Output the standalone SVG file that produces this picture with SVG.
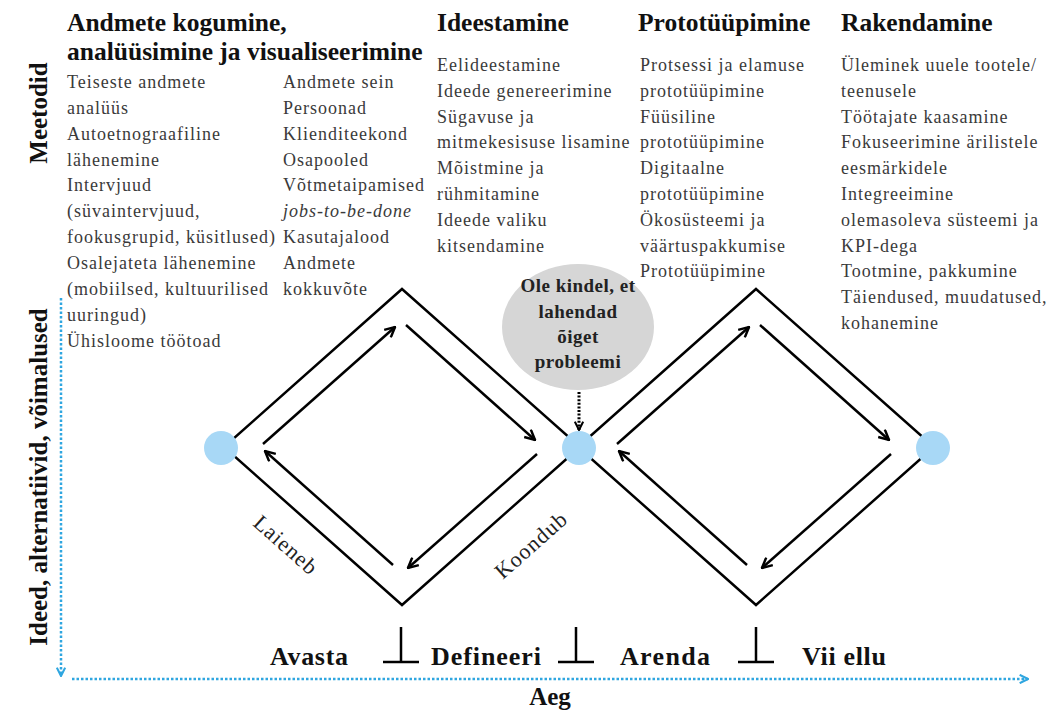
<svg xmlns="http://www.w3.org/2000/svg" width="1055" height="712" viewBox="0 0 1055 712">
<defs>
<style>
.hd{font-family:"Liberation Serif","Times New Roman",serif;font-weight:bold;font-size:25.5px;fill:#111}
.bd{font-family:"Liberation Serif","Times New Roman",serif;font-size:18px;letter-spacing:1px;fill:#3a3a3a}
.it{font-style:italic}
.ax{font-family:"Liberation Serif","Times New Roman",serif;font-weight:bold;font-size:25px;fill:#111}
.ph{font-family:"Liberation Serif","Times New Roman",serif;font-weight:bold;font-size:26px;fill:#111}
.dg{font-family:"Liberation Serif","Times New Roman",serif;font-size:22px;letter-spacing:1px;fill:#222}
.ct{font-family:"Liberation Serif","Times New Roman",serif;font-weight:bold;font-size:19px;letter-spacing:0.5px;fill:#222}
.edge{fill:none;stroke:#000;stroke-width:2.5}
.arr{fill:none;stroke:#000;stroke-width:2.5;marker-end:url(#head)}
.blue{fill:none;stroke:#2fa6e0;stroke-width:2.5;stroke-dasharray:2.5 2}
.tm{fill:none;stroke:#000;stroke-width:2.5}
</style>
<marker id="head" viewBox="0 0 12 12" refX="11" refY="6" markerWidth="12" markerHeight="12" markerUnits="userSpaceOnUse" orient="auto">
<path d="M1,1 L11,6 L1,11" fill="none" stroke="#000" stroke-width="2.5"/>
</marker>
<marker id="bhead" viewBox="0 0 12 12" refX="11" refY="6" markerWidth="10" markerHeight="10" markerUnits="userSpaceOnUse" orient="auto">
<path d="M1,1 L11,6 L1,11" fill="none" stroke="#2fa6e0" stroke-width="2.5"/>
</marker>
<marker id="dhead" viewBox="0 0 12 12" refX="11" refY="6" markerWidth="10" markerHeight="10" markerUnits="userSpaceOnUse" orient="auto">
<path d="M1,1 L11,6 L1,11" fill="none" stroke="#000" stroke-width="2.5"/>
</marker>
</defs>
<rect width="1055" height="712" fill="#fff"/>

<g id="axis-labels">
<text class="ax" transform="translate(47,113) rotate(-90)" text-anchor="middle">Meetodid</text>
<text class="ax" transform="translate(47,477) rotate(-90)" text-anchor="middle">Ideed, alternatiivid, võimalused</text>
<text class="ax" x="550" y="705" text-anchor="middle">Aeg</text>
</g>

<g id="col-andmete">
<text class="hd" x="67" y="31">Andmete kogumine,</text>
<text class="hd" x="67" y="60">analüüsimine ja visualiseerimine</text>
<text class="bd" x="67" y="88">Teiseste andmete</text>
<text class="bd" x="67" y="114">analüüs</text>
<text class="bd" x="67" y="140">Autoetnograafiline</text>
<text class="bd" x="67" y="166">lähenemine</text>
<text class="bd" x="67" y="191">Intervjuud</text>
<text class="bd" x="67" y="217">(süvaintervjuud,</text>
<text class="bd" x="67" y="243">fookusgrupid, küsitlused)</text>
<text class="bd" x="67" y="269">Osalejateta lähenemine</text>
<text class="bd" x="67" y="295">(mobiilsed, kultuurilised</text>
<text class="bd" x="67" y="321">uuringud)</text>
<text class="bd" x="67" y="347">Ühisloome töötoad</text>
<text class="bd" x="283" y="88">Andmete sein</text>
<text class="bd" x="283" y="114">Persoonad</text>
<text class="bd" x="283" y="140">Klienditeekond</text>
<text class="bd" x="283" y="166">Osapooled</text>
<text class="bd" x="283" y="191">Võtmetaipamised</text>
<text class="bd it" x="283" y="217">jobs-to-be-done</text>
<text class="bd" x="283" y="243">Kasutajalood</text>
<text class="bd" x="283" y="269">Andmete</text>
<text class="bd" x="283" y="295">kokkuvõte</text>
</g>

<g id="col-ideestamine">
<text class="hd" x="437" y="31">Ideestamine</text>
<text class="bd" x="437" y="71">Eelideestamine</text>
<text class="bd" x="437" y="97">Ideede genereerimine</text>
<text class="bd" x="437" y="123">Sügavuse ja</text>
<text class="bd" x="437" y="148">mitmekesisuse lisamine</text>
<text class="bd" x="437" y="174">Mõistmine ja</text>
<text class="bd" x="437" y="200">rühmitamine</text>
<text class="bd" x="437" y="226">Ideede valiku</text>
<text class="bd" x="437" y="252">kitsendamine</text>
</g>

<g id="col-prototyypimine">
<text class="hd" x="638" y="31">Prototüüpimine</text>
<text class="bd" x="640" y="71">Protsessi ja elamuse</text>
<text class="bd" x="640" y="97">prototüüpimine</text>
<text class="bd" x="640" y="123">Füüsiline</text>
<text class="bd" x="640" y="148">prototüüpimine</text>
<text class="bd" x="640" y="174">Digitaalne</text>
<text class="bd" x="640" y="200">prototüüpimine</text>
<text class="bd" x="640" y="226">Ökosüsteemi ja</text>
<text class="bd" x="640" y="252">väärtuspakkumise</text>
<text class="bd" x="640" y="277">Prototüüpimine</text>
</g>

<g id="col-rakendamine">
<text class="hd" x="841" y="31">Rakendamine</text>
<text class="bd" x="841" y="71">Üleminek uuele tootele/</text>
<text class="bd" x="841" y="97">teenusele</text>
<text class="bd" x="841" y="123">Töötajate kaasamine</text>
<text class="bd" x="841" y="148">Fokuseerimine ärilistele</text>
<text class="bd" x="841" y="174">eesmärkidele</text>
<text class="bd" x="841" y="200">Integreeimine</text>
<text class="bd" x="841" y="226">olemasoleva süsteemi ja</text>
<text class="bd" x="841" y="252">KPI-dega</text>
<text class="bd" x="841" y="277">Tootmine, pakkumine</text>
<text class="bd" x="841" y="303">Täiendused, muudatused,</text>
<text class="bd" x="841" y="329">kohanemine</text>
</g>

<g id="diamond-left">
<polygon class="edge" points="402,289 580,447 402,605 224,447"/>
</g>
<g id="diamond-right">
<polygon class="edge" points="756,289 934,447 756,605 578,447"/>
</g>

<g id="connectors">
<path class="arr" d="M263,444 L395,327"/>
<path class="arr" d="M406,325 L535,440"/>
<path class="arr" d="M537,454 L408,568"/>
<path class="arr" d="M393,565 L265,451"/>
<path class="arr" d="M617,444 L749,327"/>
<path class="arr" d="M760,325 L889,440"/>
<path class="arr" d="M891,454 L762,568"/>
<path class="arr" d="M747,565 L619,451"/>
<path d="M579,392 L579,430" fill="none" stroke="#000" stroke-width="3" stroke-dasharray="2 1.6" marker-end="url(#dhead)"/>
<path class="blue" d="M61,298 L61,676" marker-end="url(#bhead)"/>
<path class="blue" d="M72,679 L1028,679" marker-end="url(#bhead)"/>
</g>

<g id="node-start"><circle cx="221" cy="448" r="17" fill="#a8d8f6"/></g>
<g id="node-mid"><circle cx="579" cy="448" r="17" fill="#a8d8f6"/></g>
<g id="node-end"><circle cx="933" cy="448" r="17" fill="#a8d8f6"/></g>

<g id="callout">
<ellipse cx="578" cy="327" rx="76" ry="63" fill="#d6d6d6"/>
<text class="ct" x="578" y="292" text-anchor="middle">Ole kindel, et</text>
<text class="ct" x="578" y="318" text-anchor="middle">lahendad</text>
<text class="ct" x="578" y="343" text-anchor="middle">õiget</text>
<text class="ct" x="578" y="368" text-anchor="middle">probleemi</text>
</g>

<g id="edge-labels">
<text class="dg" transform="translate(286,545) rotate(41.6)" text-anchor="middle" dominant-baseline="central">Laieneb</text>
<text class="dg" transform="translate(531,545) rotate(-41.6)" text-anchor="middle" dominant-baseline="central">Koondub</text>
</g>

<g id="phases">
<text class="ph" x="270" y="665" textLength="78">Avasta</text>
<text class="ph" x="431" y="665" textLength="110">Defineeri</text>
<text class="ph" x="620" y="665" textLength="90">Arenda</text>
<text class="ph" x="802" y="665" textLength="84">Vii ellu</text>
<path class="tm" d="M401,627 L401,662 M383,662 L419,662"/>
<path class="tm" d="M576,627 L576,662 M558,662 L594,662"/>
<path class="tm" d="M756,627 L756,662 M738,662 L774,662"/>
</g>
</svg>
